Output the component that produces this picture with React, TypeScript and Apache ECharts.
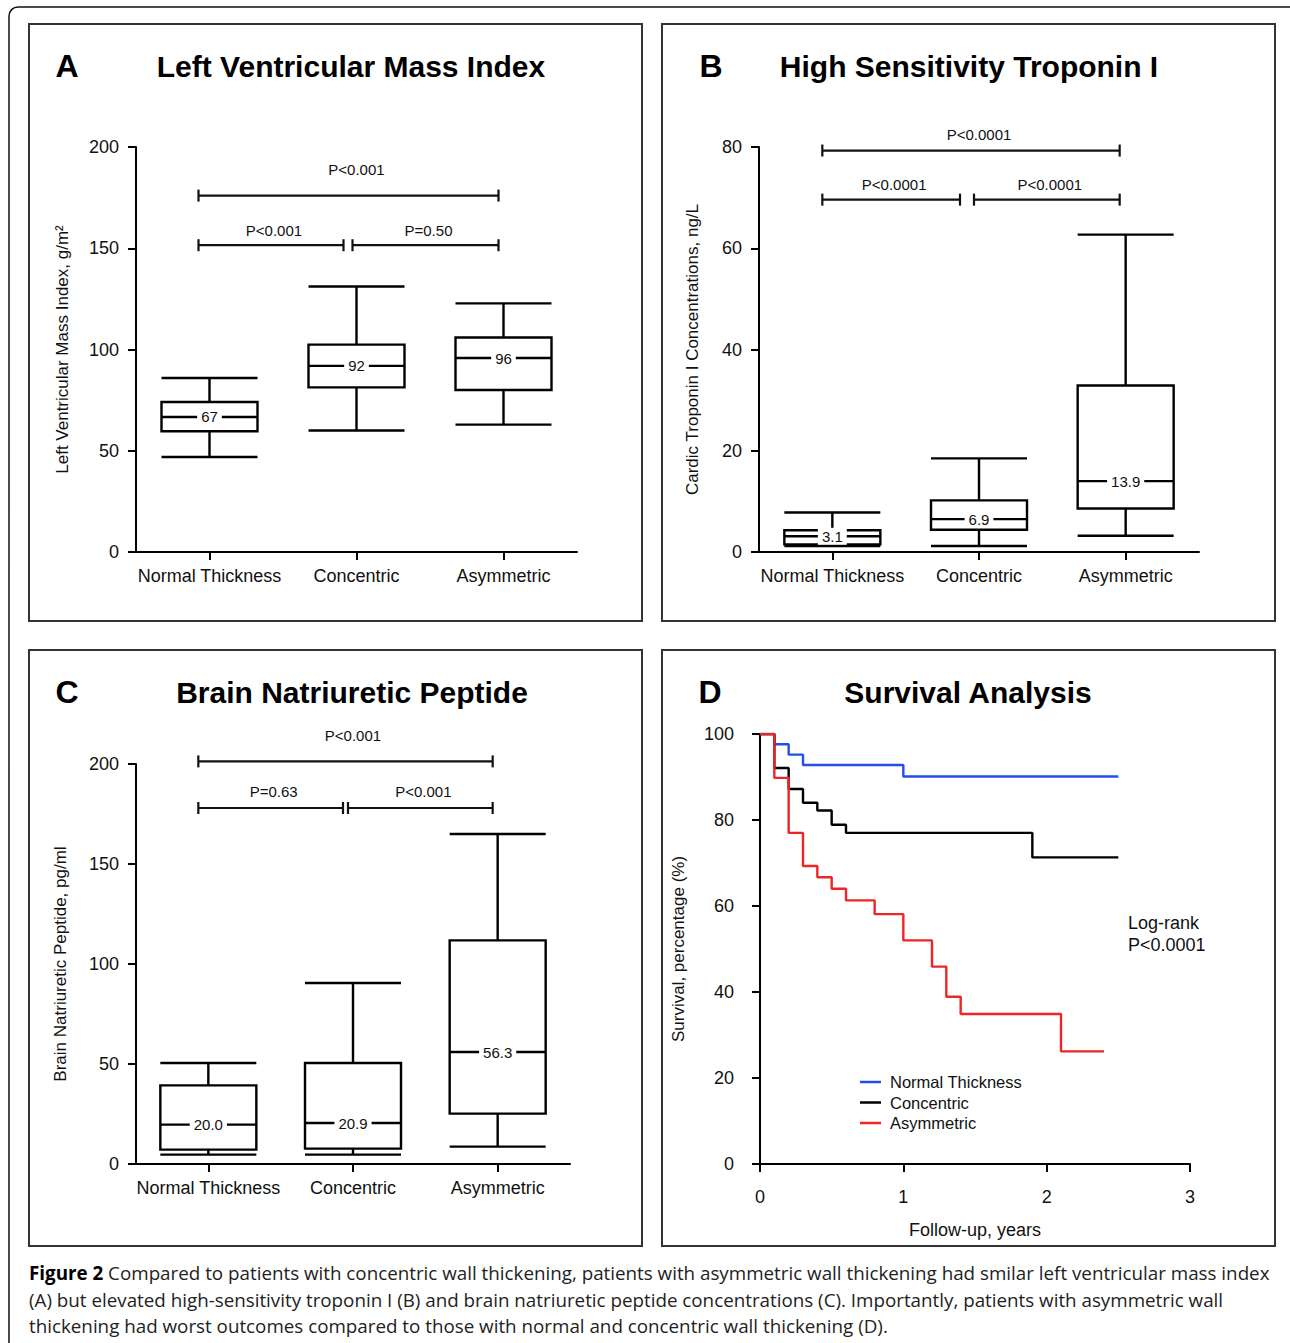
import React, { useEffect, useRef } from "react";
import * as echarts from "echarts";

const FONT = "'Liberation Sans', Arial, Helvetica, sans-serif";
const CAPTION_FONT = "'Open Sans', Lato, sans-serif";

// ---------- data ----------
const categories = ["Normal Thickness", "Concentric", "Asymmetric"];

// box plots: [min, Q1, median, Q3, max]
const lvmiBoxes = [
  [46.9, 59.6, 66.7, 74.1, 85.9],
  [60.0, 81.3, 91.9, 102.4, 131.1],
  [62.9, 80.0, 95.8, 105.9, 122.8],
];
const lvmiMedianLabels = ["67", "92", "96"];

const troponinBoxes = [
  [1.2, 1.5, 3.1, 4.3, 7.8],
  [1.2, 4.4, 6.5, 10.2, 18.5],
  [3.2, 8.6, 14.0, 32.9, 62.7],
];
const troponinMedianLabels = ["3.1", "6.9", "13.9"];

const bnpBoxes = [
  [4.7, 7.2, 19.7, 39.3, 50.5],
  [4.7, 7.7, 20.5, 50.5, 90.5],
  [8.7, 25.2, 56.0, 111.8, 165.0],
];
const bnpMedianLabels = ["20.0", "20.9", "56.3"];

// significance brackets: from category, to category, level (axis units), label
const lvmiBrackets = [
  { from: 0, to: 2, level: 176, label: "P<0.001" },
  { from: 0, to: 1, level: 151.5, label: "P<0.001" },
  { from: 1, to: 2, level: 151.5, label: "P=0.50" },
];
const troponinBrackets = [
  { from: 0, to: 2, level: 79.3, label: "P<0.0001" },
  { from: 0, to: 1, level: 69.6, label: "P<0.0001" },
  { from: 1, to: 2, level: 69.6, label: "P<0.0001" },
];
const bnpBrackets = [
  { from: 0, to: 2, level: 201.3, label: "P<0.001" },
  { from: 0, to: 1, level: 178, label: "P=0.63" },
  { from: 1, to: 2, level: 178, label: "P<0.001" },
];

// Kaplan-Meier survival (years, %)
const normalTimes = [0, 0.1, 0.2, 0.3, 1.0, 2.5];
const normalSurvival = [100, 97.6, 95.2, 92.8, 90.1, 90.1];
const concentricTimes = [0, 0.1, 0.2, 0.3, 0.4, 0.5, 0.6, 1.9, 2.5];
const concentricSurvival = [100, 92.1, 87.2, 84.0, 82.2, 78.9, 77.0, 71.3, 71.3];
const asymTimes = [0, 0.1, 0.2, 0.3, 0.4, 0.5, 0.6, 0.8, 1.0, 1.2, 1.3, 1.4, 2.1, 2.4];
const asymSurvival = [100, 89.8, 77.0, 69.3, 66.7, 64.0, 61.3, 58.1, 52.0, 45.9, 38.9, 34.9, 26.2, 26.2];

const survivalNames = ["Normal Thickness", "Concentric", "Asymmetric"];

const yTicksBox = { lvmi: [0, 200, 50], troponin: [0, 80, 20], bnp: [0, 200, 50] };
const survivalYAxis = [0, 100, 20];
const survivalXAxis = [0, 3, 1];

const captionLines = [
  "Compared to patients with concentric wall thickening, patients with asymmetric wall thickening had smilar left ventricular mass index",
  "(A) but elevated high-sensitivity troponin I (B) and brain natriuretic peptide concentrations (C). Importantly, patients with asymmetric wall",
  "thickening had worst outcomes compared to those with normal and concentric wall thickening (D).",
];

// ---------- styling helpers ----------
const INK = "#111";
const BLUE = "#1f4fe8";
const RED = "#f02424";
const CAPTION_SIZE = 18.8;

function catAxis(gridIndex: number) {
  return {
    type: "category",
    gridIndex,
    data: categories,
    boundaryGap: true,
    axisLine: { show: true, lineStyle: { color: "#000", width: 2 } },
    axisTick: { show: true, alignWithLabel: true, length: 8, lineStyle: { color: "#000", width: 2 } },
    axisLabel: { color: INK, fontSize: 18, fontFamily: FONT, margin: 15, interval: 0 },
    splitLine: { show: false },
  };
}

function valAxis(gridIndex: number, ticks: number[], name: string, nameGap: number, labelMargin = 17) {
  return {
    type: "value",
    gridIndex,
    min: ticks[0],
    max: ticks[1],
    interval: ticks[2],
    name,
    nameLocation: "middle",
    nameGap,
    nameRotate: 90,
    nameTextStyle: { fontSize: 17, fontFamily: FONT, color: INK },
    axisLine: { show: true, lineStyle: { color: "#000", width: 2 } },
    axisTick: { show: true, length: 8, lineStyle: { color: "#000", width: 2 } },
    axisLabel: { color: INK, fontSize: 18, fontFamily: FONT, margin: labelMargin },
    splitLine: { show: false },
  };
}

function boxSeries(idx: number, boxes: number[][]) {
  return {
    type: "boxplot",
    xAxisIndex: idx,
    yAxisIndex: idx,
    data: boxes,
    boxWidth: [96, 96],
    silent: true,
    z: 2,
    itemStyle: { color: "#fff", borderColor: "#000", borderWidth: 2.4 },
  };
}

function medianSeries(idx: number, boxes: number[][], labels: string[]) {
  return {
    type: "custom",
    xAxisIndex: idx,
    yAxisIndex: idx,
    silent: true,
    z: 4,
    data: boxes.map((b, i) => [i, b[2]]),
    renderItem: (params: any, api: any) => {
      const p = api.coord([api.value(0), api.value(1)]);
      return {
        type: "text",
        x: p[0],
        y: p[1],
        style: {
          text: labels[params.dataIndex],
          fill: INK,
          fontSize: 15,
          fontFamily: FONT,
          align: "center",
          verticalAlign: "middle",
          backgroundColor: "#fff",
          padding: [1, 4],
        },
      };
    },
  };
}

type BracketCfg = { start: number; end: number; midEnd: number; midStart: number; topGap: number; lowGap: number };

function bracketSeries(idx: number, brackets: any[], cfg: BracketCfg) {
  return {
    type: "custom",
    xAxisIndex: idx,
    yAxisIndex: idx,
    silent: true,
    clip: false,
    z: 4,
    data: brackets.map((b) => [b.from, b.level, b.to]),
    renderItem: (params: any, api: any) => {
      const b = brackets[params.dataIndex];
      const a = api.coord([b.from, b.level]);
      const c = api.coord([b.to, b.level]);
      const x1 = a[0] + (b.from === 0 ? cfg.start : cfg.midStart);
      const x2 = c[0] + (b.to === 2 ? cfg.end : cfg.midEnd);
      const y = a[1];
      const spanning = b.to - b.from === 2;
      const gap = spanning ? cfg.topGap : cfg.lowGap;
      const tx = spanning ? (a[0] + c[0]) / 2 : (x1 + x2) / 2 + 3;
      const ls = { stroke: "#111", lineWidth: 2.2 };
      return {
        type: "group",
        children: [
          { type: "line", shape: { x1, y1: y, x2, y2: y }, style: ls },
          { type: "line", shape: { x1, y1: y - 6, x2: x1, y2: y + 6 }, style: ls },
          { type: "line", shape: { x1: x2, y1: y - 6, x2, y2: y + 6 }, style: ls },
          {
            type: "text",
            x: tx,
            y: y - gap,
            style: { text: b.label, fill: INK, fontSize: 15, fontFamily: FONT, align: "center", verticalAlign: "middle" },
          },
        ],
      };
    },
  };
}

function kmSeries(name: string, times: number[], surv: number[], color: string) {
  return {
    type: "line",
    name,
    xAxisIndex: 3,
    yAxisIndex: 3,
    step: "end",
    symbol: "none",
    showSymbol: false,
    silent: true,
    data: times.map((t, i) => [t, surv[i]]),
    lineStyle: { color, width: 2.4 },
    itemStyle: { color },
  };
}

function panelRect(x: number, y: number, w: number, h: number) {
  return {
    type: "rect",
    shape: { x, y, width: w, height: h },
    style: { fill: "none", stroke: "#333", lineWidth: 2 },
    silent: true,
  };
}

function boldText(text: string, x: number, y: number, size: number) {
  return {
    type: "text",
    x,
    y,
    style: { text, fill: "#000", fontSize: size, fontWeight: "bold", fontFamily: FONT, align: "center", verticalAlign: "middle" },
    silent: true,
  };
}

function plainText(text: string, x: number, y: number, size: number, align = "left") {
  return {
    type: "text",
    x,
    y,
    style: { text, fill: INK, fontSize: size, fontFamily: FONT, align, verticalAlign: "middle" },
    silent: true,
  };
}

function buildOption() {
  return {
    animation: false,
    backgroundColor: "#fff",
    grid: [
      { left: 136, top: 147, width: 441, height: 405 },
      { left: 759, top: 147, width: 440, height: 405 },
      { left: 136, top: 764, width: 434, height: 400 },
      { left: 760, top: 734, width: 430, height: 430 },
    ],
    xAxis: [
      catAxis(0),
      catAxis(1),
      catAxis(2),
      {
        type: "value",
        gridIndex: 3,
        min: survivalXAxis[0],
        max: survivalXAxis[1],
        interval: survivalXAxis[2],
        name: "Follow-up, years",
        nameLocation: "middle",
        nameGap: 57,
        nameTextStyle: { fontSize: 18, fontFamily: FONT, color: INK },
        axisLine: { show: true, lineStyle: { color: "#000", width: 2 } },
        axisTick: { show: true, length: 8, lineStyle: { color: "#000", width: 2 } },
        axisLabel: { color: INK, fontSize: 18, fontFamily: FONT, margin: 24 },
        splitLine: { show: false },
      },
    ],
    yAxis: [
      valAxis(0, yTicksBox.lvmi, "Left Ventricular Mass Index, g/m\u00B2", 65),
      valAxis(1, yTicksBox.troponin, "Cardic Troponin I Concentrations, ng/L", 58),
      valAxis(2, yTicksBox.bnp, "Brain Natriuretic Peptide, pg/ml", 67),
      valAxis(3, survivalYAxis, "Survival, percentage (%)", 73, 26),
    ],
    legend: {
      left: 855,
      top: 1068,
      orient: "vertical",
      icon: "rect",
      itemWidth: 21,
      itemHeight: 2.5,
      itemGap: 2.5,
      selectedMode: false,
      textStyle: { fontSize: 16.5, lineHeight: 18, fontFamily: FONT, color: INK, padding: [0, 0, 0, 4] },
      data: survivalNames,
    },
    series: [
      boxSeries(0, lvmiBoxes),
      medianSeries(0, lvmiBoxes, lvmiMedianLabels),
      bracketSeries(0, lvmiBrackets, { start: -11, end: -5, midEnd: -13, midStart: -4, topGap: 26, lowGap: 15 }),
      boxSeries(1, troponinBoxes),
      medianSeries(1, troponinBoxes, troponinMedianLabels),
      bracketSeries(1, troponinBrackets, { start: -10, end: -6, midEnd: -19, midStart: -5, topGap: 16, lowGap: 15 }),
      boxSeries(2, bnpBoxes),
      medianSeries(2, bnpBoxes, bnpMedianLabels),
      bracketSeries(2, bnpBrackets, { start: -10, end: -5, midEnd: -10, midStart: -5, topGap: 26, lowGap: 17 }),
      kmSeries(survivalNames[0], normalTimes, normalSurvival, BLUE),
      kmSeries(survivalNames[1], concentricTimes, concentricSurvival, "#000"),
      kmSeries(survivalNames[2], asymTimes, asymSurvival, RED),
    ],
    graphic: [
      {
        type: "rect",
        shape: { x: 9, y: 7, width: 1300, height: 1400, r: 9 },
        style: { fill: "none", stroke: "#111", lineWidth: 1.5 },
        silent: true,
      },
      panelRect(29, 24, 613, 597),
      panelRect(662, 24, 613, 597),
      panelRect(29, 650, 613, 596),
      panelRect(662, 650, 613, 596),
      boldText("A", 67, 66, 32),
      boldText("Left Ventricular Mass Index", 351, 66, 30),
      boldText("B", 711, 66, 32),
      boldText("High Sensitivity Troponin I", 969, 66, 30),
      boldText("C", 67, 692, 32),
      boldText("Brain Natriuretic Peptide", 352, 692, 30),
      boldText("D", 710, 692, 32),
      boldText("Survival Analysis", 968, 692, 30),
      plainText("Log-rank", 1128, 923, 18),
      plainText("P<0.0001", 1128, 945, 18),
      {
        type: "text",
        x: 29,
        y: 1273,
        style: {
          text: "{b|Figure 2} " + captionLines[0],
          fill: "#222",
          fontSize: CAPTION_SIZE,
          fontFamily: CAPTION_FONT,
          verticalAlign: "middle",
          rich: { b: { fontWeight: "bold", fontSize: CAPTION_SIZE, fontFamily: CAPTION_FONT, fill: "#000" } },
        },
        silent: true,
      },
      {
        type: "text",
        x: 29,
        y: 1300,
        style: { text: captionLines[1], fill: "#222", fontSize: CAPTION_SIZE, fontFamily: CAPTION_FONT, verticalAlign: "middle" },
        silent: true,
      },
      {
        type: "text",
        x: 29,
        y: 1326,
        style: { text: captionLines[2], fill: "#222", fontSize: CAPTION_SIZE, fontFamily: CAPTION_FONT, verticalAlign: "middle" },
        silent: true,
      },
    ],
  };
}

export default function App() {
  const ref = useRef<HTMLDivElement>(null);
  useEffect(() => {
    if (!ref.current) return;
    const chart = echarts.init(ref.current, null, { renderer: "svg" });
    chart.setOption(buildOption() as any);
    return () => chart.dispose();
  }, []);
  return (
    <div
      ref={ref}
      style={{ position: "fixed", left: 0, top: 0, width: 1290, height: 1343, background: "#fff" }}
    />
  );
}
